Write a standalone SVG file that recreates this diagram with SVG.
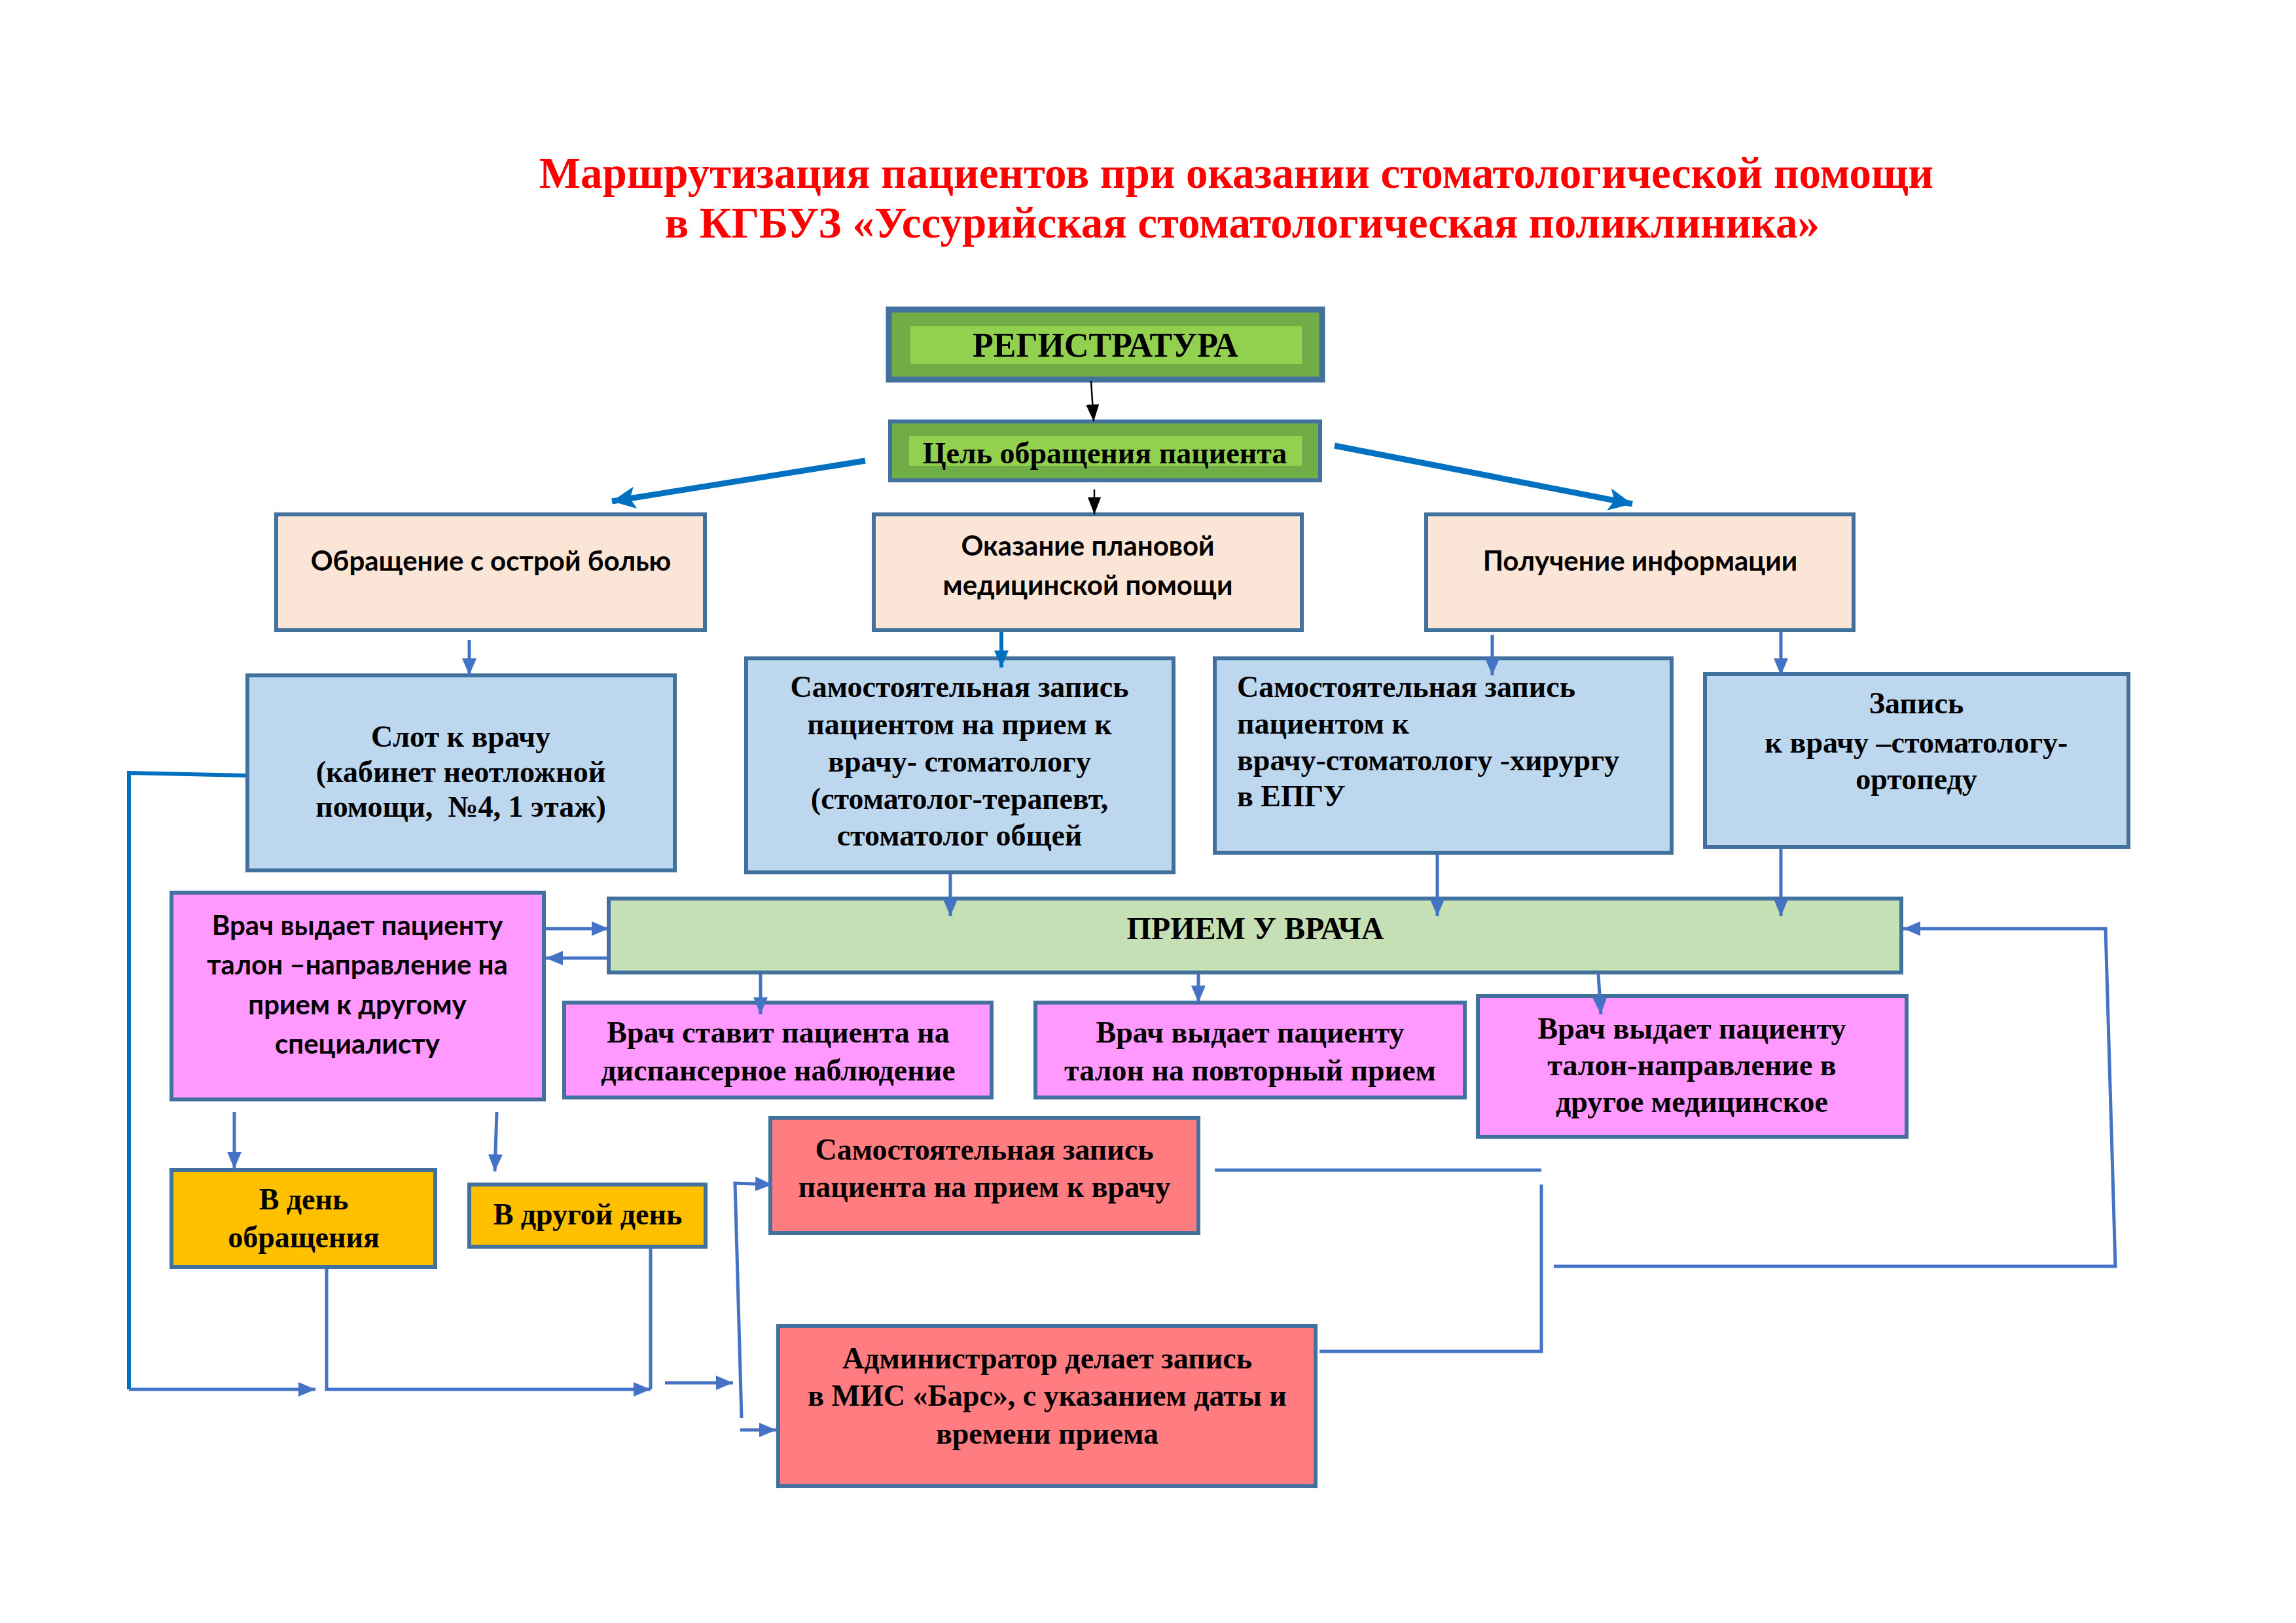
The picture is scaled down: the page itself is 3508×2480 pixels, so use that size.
<svg xmlns="http://www.w3.org/2000/svg" width="3508" height="2480" viewBox="0 0 3508 2480">
<defs>
<style>
.bx{stroke:#41719C;stroke-width:6}
.peach{fill:#FBE5D6}
.blue{fill:#BDD7EE}
.pink{fill:#FF99FF}
.red{fill:#FF7C80}
.orange{fill:#FFC000}
.lgreen{fill:#C5E0B4}
.tr{font-family:"Liberation Serif","Times New Roman",serif;font-weight:bold;fill:#000}
.ts{font-family:Lato,"Noto Sans",sans-serif;font-weight:bold;fill:#000}
.c{text-anchor:middle}
.t44{font-size:46px}
.s40{font-size:42px}
.ln{fill:none;stroke:#4472C4;stroke-width:5}
.ln2{fill:none;stroke:#0070C0;stroke-width:6}
.dg{fill:none;stroke:#0070C0;stroke-width:9}
.bk{fill:none;stroke:#000;stroke-width:2.5}
</style>
<marker id="ab" markerUnits="userSpaceOnUse" markerWidth="26" markerHeight="22" refX="26" refY="11" orient="auto"><path d="M0,0 L26,11 L0,22 z" fill="#4472C4"/></marker>
<marker id="ac" markerUnits="userSpaceOnUse" markerWidth="26" markerHeight="22" refX="26" refY="11" orient="auto"><path d="M0,0 L26,11 L0,22 z" fill="#0070C0"/></marker>
<marker id="ad" markerUnits="userSpaceOnUse" markerWidth="36" markerHeight="34" refX="36" refY="17" orient="auto"><path d="M0,0 L36,17 L0,34 L8,17 z" fill="#0070C0"/></marker>
<marker id="ak" markerUnits="userSpaceOnUse" markerWidth="26" markerHeight="20" refX="26" refY="10" orient="auto"><path d="M0,0 L26,10 L0,20 z" fill="#000"/></marker>
</defs>
<rect width="3508" height="2480" fill="#fff"/>
<g id="title" font-family="Liberation Serif,Times New Roman,serif" font-weight="bold" fill="#FF0000" font-size="67" text-anchor="middle">
<text x="1889" y="287">Маршрутизация пациентов при оказании стоматологической помощи</text>
<text x="1898" y="363">в КГБУЗ «Уссурийская стоматологическая поликлиника»</text>
</g>
<g id="registratura">
<rect x="1358" y="473" width="662" height="107" fill="#70AD47" stroke="#41719C" stroke-width="9"/>
<rect x="1391" y="498" width="598" height="58" fill="#92D050"/>
<text class="tr c" x="1689" y="545" font-size="52">РЕГИСТРАТУРА</text>
</g>
<g id="cel">
<rect x="1360" y="644" width="657" height="90" fill="#70AD47" stroke="#41719C" stroke-width="6"/>
<rect x="1389" y="666" width="600" height="46" fill="#92D050"/>
<text class="tr c t44" x="1688" y="708">Цель обращения пациента</text>
</g>
<g id="ostraya">
<rect class="bx peach" x="422" y="786" width="655" height="177"/>
<text class="ts c s40" x="750" y="872">Обращение с острой болью</text>
</g>
<g id="planovaya">
<rect class="bx peach" x="1335" y="786" width="654" height="177"/>
<text class="ts c s40" x="1662" y="849">Оказание плановой</text>
<text class="ts c s40" x="1662" y="909">медицинской помощи</text>
</g>
<g id="info">
<rect class="bx peach" x="2179" y="786" width="653" height="177"/>
<text class="ts c s40" x="2506" y="872">Получение информации</text>
</g>
<g id="slot">
<rect class="bx blue" x="378" y="1032" width="653" height="298"/>
<text class="tr c t44" x="704" y="1141">Слот к врачу</text>
<text class="tr c t44" x="704" y="1195">(кабинет неотложной</text>
<text class="tr c t44" x="704" y="1248">помощи,&#160; №4, 1 этаж)</text>
</g>
<g id="samost1">
<rect class="bx blue" x="1140" y="1006" width="653" height="327"/>
<text class="tr c t44" x="1466" y="1065">Самостоятельная запись</text>
<text class="tr c t44" x="1466" y="1122">пациентом на прием к</text>
<text class="tr c t44" x="1466" y="1179">врачу- стоматологу</text>
<text class="tr c t44" x="1466" y="1236">(стоматолог-терапевт,</text>
<text class="tr c t44" x="1466" y="1292">стоматолог общей</text>
</g>
<g id="samost2">
<rect class="bx blue" x="1856" y="1006" width="698" height="297"/>
<text class="tr t44" x="1890" y="1065">Самостоятельная запись</text>
<text class="tr t44" x="1890" y="1121">пациентом к</text>
<text class="tr t44" x="1890" y="1177">врачу-стоматологу -хирургу</text>
<text class="tr t44" x="1890" y="1232">в ЕПГУ</text>
</g>
<g id="ortoped">
<rect class="bx blue" x="2605" y="1030" width="647" height="264"/>
<text class="tr c t44" x="2928" y="1090">Запись</text>
<text class="tr c t44" x="2928" y="1150">к врачу –стоматологу-</text>
<text class="tr c t44" x="2928" y="1206">ортопеду</text>
</g>
<g id="priem">
<rect class="bx lgreen" x="930" y="1373" width="1975" height="113"/>
<text class="tr c" x="1918" y="1435" font-size="48">ПРИЕМ У ВРАЧА</text>
</g>
<g id="talon-spec">
<rect class="bx pink" x="262" y="1364" width="569" height="316"/>
<text class="ts c s40" x="546" y="1429">Врач выдает пациенту</text>
<text class="ts c s40" x="546" y="1489">талон –направление на</text>
<text class="ts c s40" x="546" y="1550">прием к другому</text>
<text class="ts c s40" x="546" y="1610">специалисту</text>
</g>
<g id="dispanser">
<rect class="bx pink" x="862" y="1532" width="653" height="145"/>
<text class="tr c t44" x="1189" y="1593">Врач ставит пациента на</text>
<text class="tr c t44" x="1189" y="1651">диспансерное наблюдение</text>
</g>
<g id="povtor">
<rect class="bx pink" x="1582" y="1532" width="656" height="145"/>
<text class="tr c t44" x="1910" y="1593">Врач выдает пациенту</text>
<text class="tr c t44" x="1910" y="1651">талон на повторный прием</text>
</g>
<g id="drugoe">
<rect class="bx pink" x="2258" y="1522" width="655" height="215"/>
<text class="tr c t44" x="2585" y="1587">Врач выдает пациенту</text>
<text class="tr c t44" x="2585" y="1643">талон-направление в</text>
<text class="tr c t44" x="2585" y="1699">другое медицинское</text>
</g>
<g id="vden">
<rect class="bx orange" x="262" y="1788" width="403" height="148"/>
<text class="tr c t44" x="464" y="1848">В день</text>
<text class="tr c t44" x="464" y="1906">обращения</text>
</g>
<g id="vdrugoy">
<rect class="bx orange" x="717" y="1810" width="361" height="95"/>
<text class="tr c t44" x="898" y="1871">В другой день</text>
</g>
<g id="samzapis">
<rect class="bx red" x="1177" y="1708" width="654" height="176"/>
<text class="tr c t44" x="1504" y="1772">Самостоятельная запись</text>
<text class="tr c t44" x="1504" y="1829">пациента на прием к врачу</text>
</g>
<g id="admin">
<rect class="bx red" x="1189" y="2026" width="821" height="245"/>
<text class="tr c t44" x="1600" y="2091">Администратор делает запись</text>
<text class="tr c t44" x="1600" y="2148">в МИС «Барс», с указанием даты и</text>
<text class="tr c t44" x="1600" y="2206">времени приема</text>
</g>
<g id="connectors">
<path class="bk" d="M1667,582 L1671,644" marker-end="url(#ak)"/>
<path class="bk" d="M1672,748 L1672,786" marker-end="url(#ak)"/>
<path class="dg" d="M1322,704 L935,766" marker-end="url(#ad)"/>
<path class="dg" d="M2039,681 L2494,770" marker-end="url(#ad)"/>
<path class="ln" d="M717,978 L717,1032" marker-end="url(#ab)"/>
<path class="ln2" d="M1530,966 L1530,1020" marker-end="url(#ac)"/>
<path class="ln" d="M2280,970 L2280,1032" marker-end="url(#ab)"/>
<path class="ln" d="M2721,966 L2721,1032" marker-end="url(#ab)"/>
<path class="ln2" d="M376,1185 L197,1181 L197,2123"/>
<path class="ln" d="M197,2123 L482,2123" marker-end="url(#ab)"/>
<path class="ln" d="M1452,1336 L1452,1400" marker-end="url(#ab)"/>
<path class="ln" d="M2196,1306 L2196,1400" marker-end="url(#ab)"/>
<path class="ln" d="M2721,1297 L2721,1400" marker-end="url(#ab)"/>
<path class="ln" d="M834,1419 L930,1419" marker-end="url(#ab)"/>
<path class="ln" d="M927,1464 L834,1464" marker-end="url(#ab)"/>
<path class="ln" d="M1162,1489 L1162,1550" marker-end="url(#ab)"/>
<path class="ln" d="M1831,1489 L1831,1532" marker-end="url(#ab)"/>
<path class="ln" d="M2442,1489 L2446,1550" marker-end="url(#ab)"/>
<path class="ln" d="M2374,1935 L3232,1935 L3217,1419 L2908,1419" marker-end="url(#ab)"/>
<path class="ln" d="M1856,1788 L2355,1788"/>
<path class="ln" d="M2355,1810 L2355,2065 L2016,2065"/>
<path class="ln" d="M358,1699 L358,1786" marker-end="url(#ab)"/>
<path class="ln" d="M759,1699 L756,1790" marker-end="url(#ab)"/>
<path class="ln" d="M499,1939 L499,2123 L994,2123" marker-end="url(#ab)"/>
<path class="ln" d="M994,1908 L994,2123"/>
<path class="ln" d="M1016,2113 L1120,2113" marker-end="url(#ab)"/>
<path class="ln" d="M1133,2167 L1123,1808 L1180,1810" marker-end="url(#ab)"/>
<path class="ln" d="M1131,2185 L1186,2185" marker-end="url(#ab)"/>
</g>
</svg>
